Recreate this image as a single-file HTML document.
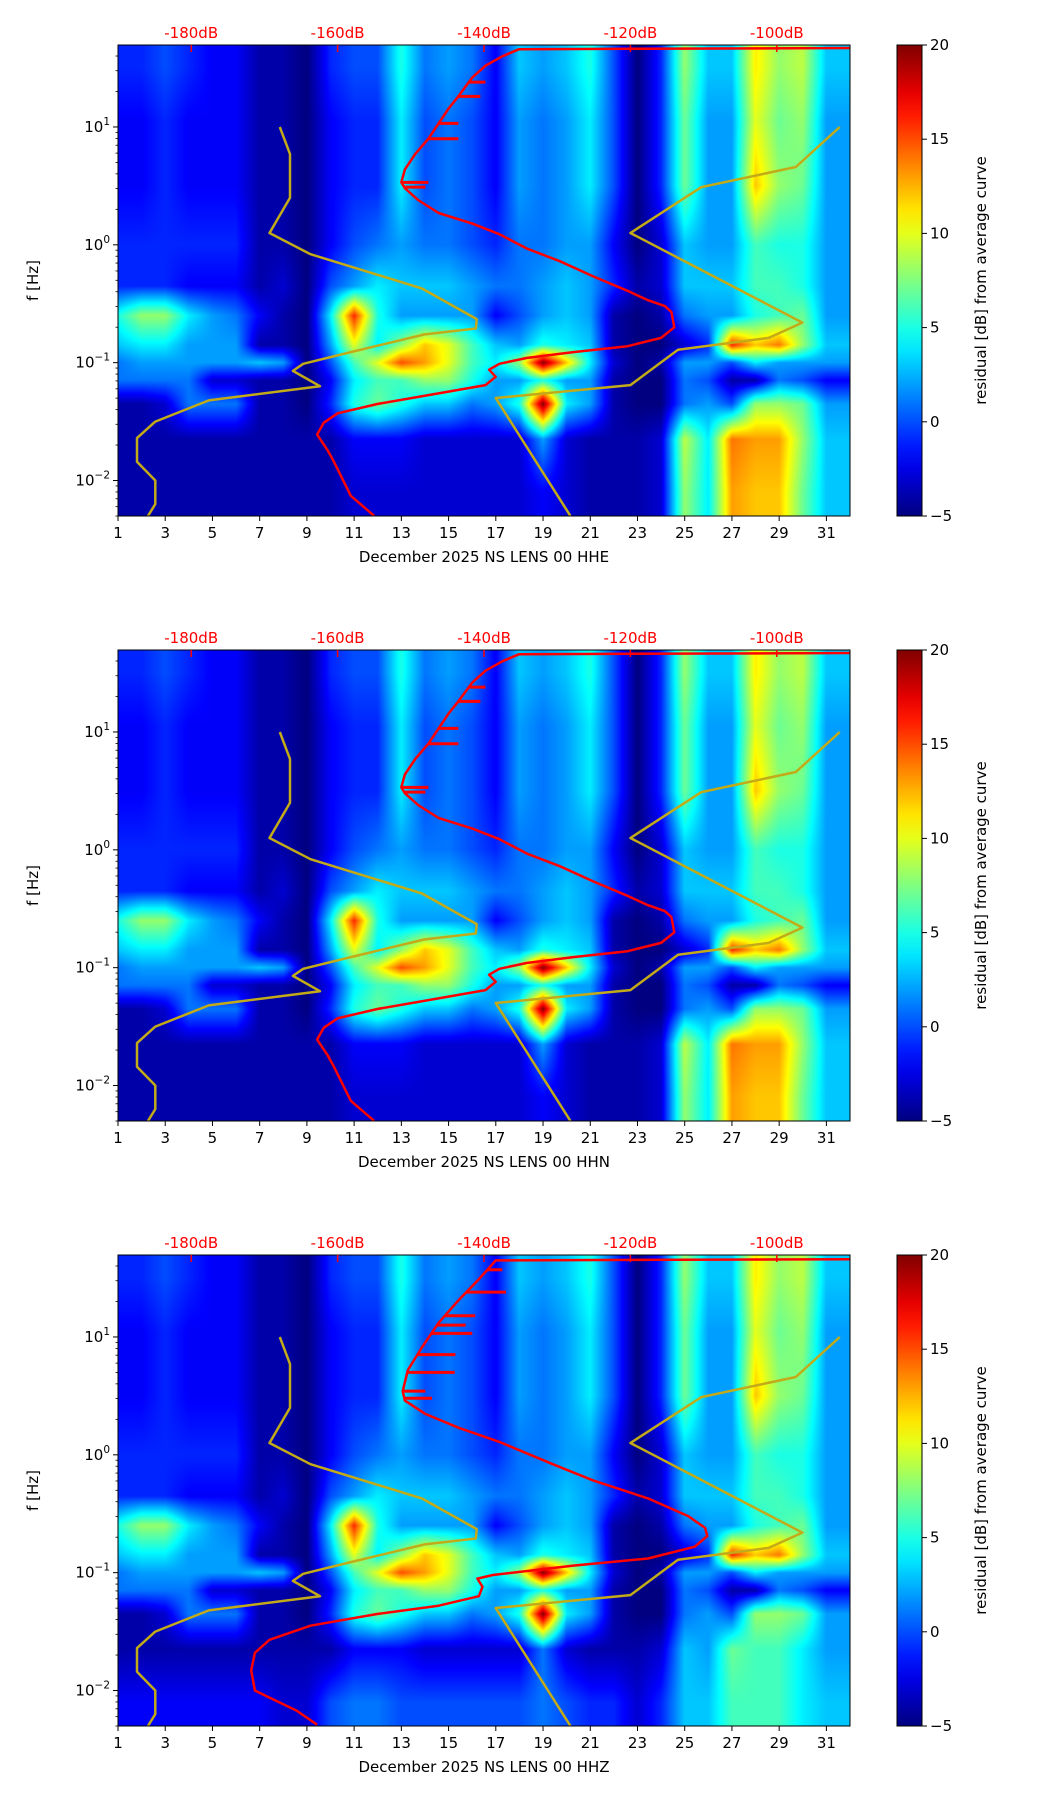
<!DOCTYPE html>
<html><head><meta charset="utf-8">
<style>
html,body{margin:0;padding:0;background:#fff;}
#root{position:relative;width:1052px;height:1806px;overflow:hidden;font-family:"DejaVu Sans","Liberation Sans",sans-serif;}
canvas.hm{position:absolute;}
svg#ov{position:absolute;left:0;top:0;}
</style></head>
<body>
<div id="root">
<svg id="ov" width="1052" height="1806"></svg>
</div>
<script>
// ---------- data ----------
const panelTitles = ["December 2025 NS LENS 00 HHE","December 2025 NS LENS 00 HHN","December 2025 NS LENS 00 HHZ"];
const xTickLabels = [1,3,5,7,9,11,13,15,17,19,21,23,25,27,29,31];
const yTickExps = [-2,-1,0,1];
const dbTickLabels = [-180,-160,-140,-120,-100];
const cbarTicks = [-5,0,5,10,15,20];
const bandLogF = [1.5,1.05,0.5,0.0,-0.35,-0.6,-0.85,-1.0,-1.15,-1.35,-1.65,-2.1];
const band0 = [-1,-1,0,-1,-2,-2,-4,-4,-5,-1,0,0,5,1,2,1,-2,3,2,3,5,0,-5,-1,8,3,3,11,8,9,3];
const band1 = [-2,-2,-1,-2,-2,-2,-4,-4,-5,-2,-1,-1,4,0,1,0,-2,2,1,2,4,0,-5,-1,7,2,2,10,7,8,2];
const band2 = [-2,-2,-1,-2,-2,-2,-4,-4,-5,-2,-1,-1,4,0,1,0,-2,2,1,2,4,0,-5,-1,7,2,2,12,8,7,2];
const band3 = [-1,-1,-1,-1,-1,-1,-4,-4,-5,-2,0,1,2,1,1,0,-1,1,1,2,2,-2,-5,-3,3,2,2,6,5,5,2];
const band4 = [-1,-1,-1,-2,-2,-2,-4,-3,-5,0,2,4,3,3,3,2,1,1,2,3,2,-1,-4,-3,3,3,3,6,6,5,2];
const band5 = [5,8,8,4,2,1,-2,-4,-5,4,16,5,2,2,2,2,-2,0,2,3,2,-4,-5,-4,1,2,2,5,6,7,2];
const band6 = [3,4,4,2,2,2,-4,-4,-5,2,10,4,8,12,10,6,3,2,5,4,3,-4,-5,-5,-3,-1,16,12,14,8,3];
const band7 = [1,2,2,2,2,2,3,2,-5,0,6,10,15,13,10,6,4,8,20,12,4,-3,-5,-4,2,2,0,4,2,2,2];
const band8 = [1,1,1,1,-3,-3,-4,-4,-5,-2,4,6,6,8,8,5,2,2,5,2,2,-4,-5,-5,1,0,-4,-4,1,0,-2];
const band9 = [-4,-4,-3,1,1,1,-4,-4,-5,-1,5,7,5,3,3,1,2,5,20,4,2,-4,-5,-5,1,2,0,8,8,7,2];
const band10 = [-4,-4,-4,-4,-4,-4,-4,-4,-4,-4,-2,-2,-2,-3,-3,-3,-3,-3,2,-3,-4,-4,-4,-3,9,4,14,13,13,8,3];
const band11 = [-4,-4,-4,-4,-4,-4,-4,-4,-4,-4,-3,-3,-3,-3,-3,-3,-3,-3,-2,-3,-4,-4,-4,-3,8,4,13,12,12,7,3];
const band10z = [-4,-4,-4,-4,-4,-4,-4,-4,-4,-4,-2,-2,-2,-3,-3,-3,-3,-3,1,-3,-4,-4,-4,-3,3,2,7,6,6,4,2];
const band11z = [-2,-2,-2,-2,-2,-2,-2,-3,-3,0,1,1,0,0,0,0,0,0,1,0,-1,-1,-3,-1,3,3,6,6,6,4,3];
// PSD curve (dB, log10 f)
const psdDbA = [-155,-158.2,-160.5,-161.4,-162.8,-161.9,-160,-154.5,-147.1,-139.8,-138.4,-139.3,-137.9,-134.2,-127.8,-120.4,-115.8,-114,-114.4,-115.3,-117.6,-120.4,-125,-129.6,-134.2,-137.9,-141.6,-146.2,-149,-150.8,-151.3,-150.8,-149.4,-147.6,-146.2,-144.8,-143.5,-141.6,-139.8,-137.5,-135.2,-90];
const psdLogFA = [-2.3,-2.13,-1.84,-1.74,-1.61,-1.51,-1.43,-1.35,-1.27,-1.19,-1.12,-1.06,-1.01,-0.96,-0.91,-0.86,-0.79,-0.70,-0.57,-0.52,-0.47,-0.39,-0.27,-0.14,-0.03,0.09,0.18,0.27,0.38,0.48,0.53,0.64,0.77,0.90,1.03,1.16,1.26,1.42,1.52,1.60,1.66,1.67];
const spikeDbA = [-147.6,-148,-143.5,-140.5,-139.8,-143.5];
const spikeLogFA = [0.53,0.49,1.03,1.26,1.38,0.9];
const psdDbZ = [-162.8,-165.6,-169.3,-171.3,-171.8,-171.3,-169.3,-163.7,-154.5,-146.2,-140.7,-140.2,-140.9,-138.8,-127.8,-117.6,-111.2,-109.5,-109.8,-112.1,-117.6,-125,-130.6,-137.9,-143.5,-148.1,-150.8,-151.1,-150.4,-148.5,-146.2,-143.5,-140.7,-138.4,-90];
const psdLogFZ = [-2.29,-2.17,-2.06,-2.0,-1.83,-1.68,-1.57,-1.45,-1.35,-1.28,-1.2,-1.12,-1.05,-1.02,-0.94,-0.88,-0.78,-0.69,-0.62,-0.52,-0.37,-0.22,-0.08,0.11,0.23,0.35,0.46,0.54,0.72,0.91,1.12,1.31,1.49,1.65,1.66];
const spikeDbZ = [-147.1,-148,-143.9,-141.6,-141.2,-137,-137.5,-144,-142.5];
const spikeLogFZ = [0.48,0.54,0.85,1.03,1.18,1.38,1.57,0.7,1.1];
// noise models
const nlnmDb = [-167.9,-166.5,-166.5,-169.3,-163.7,-148.5,-141,-141.1,-148.1,-158.2,-164.7,-166.1,-162.4,-177.6,-184.9,-187.4,-187.4,-184.9,-184.9,-185.9];
const nlnmLogF = [1.0,0.77,0.40,0.10,-0.08,-0.37,-0.63,-0.71,-0.76,-0.91,-1.01,-1.07,-1.20,-1.32,-1.50,-1.64,-1.84,-2.0,-2.2,-2.3];
const nhnmDb = [-91.4,-97.4,-110.3,-120,-96.5,-101.1,-113.5,-120,-138.4,-128.2];
const nhnmLogF = [1.0,0.66,0.49,0.10,-0.66,-0.79,-0.89,-1.19,-1.30,-2.3];

// ---------- layout ----------
const L=118, W=732, H=471, tops=[45,650,1255];
const X0=1, X1=32, LF0=Math.log10(0.005), LF1=Math.log10(49.6), DB0=-190, DB1=-90;
const CBX=897, CBW=25;
const NS="http://www.w3.org/2000/svg";
const svg=document.getElementById('ov');
const root=document.getElementById('root');
function xDay(d){return L+(d-X0)/(X1-X0)*W;}
function xDb(v){return L+(v-DB0)/(DB1-DB0)*W;}
function yF(top,lf){return top+(LF1-lf)/(LF1-LF0)*H;}
function el(tag,attrs,parent){const e=document.createElementNS(NS,tag);for(const k in attrs)e.setAttribute(k,attrs[k]);(parent||svg).appendChild(e);return e;}
function jet(v){let t=(v+5)/25;t=Math.max(0,Math.min(1,t));const c=x=>Math.max(0,Math.min(1,x));return [c(1.5-Math.abs(4*t-3))*255,c(1.5-Math.abs(4*t-2))*255,c(1.5-Math.abs(4*t-1))*255];}

function drawHeat(top,bands){
  const cv=document.createElement('canvas');cv.width=W;cv.height=H;cv.className='hm';
  cv.style.left=L+'px';cv.style.top=top+'px';
  
  
  root.insertBefore(cv,svg);
  const ctx=cv.getContext('2d');const img=ctx.createImageData(W,H);
  const nb=bandLogF.length, nd=bands[0].length;
  for(let py=0;py<H;py++){
    const lf=LF1-(py+0.5)/H*(LF1-LF0);
    let i=0;while(i<nb-2&&lf<bandLogF[i+1])i++;
    let fy=(bandLogF[i]-lf)/(bandLogF[i]-bandLogF[i+1]);fy=Math.max(0,Math.min(1,fy));
    for(let px=0;px<W;px++){
      const d=X0+(px+0.5)/W*(X1-X0);
      let cx=d-1;cx=Math.max(0,Math.min(nd-1,cx));
      const j=Math.min(nd-2,Math.floor(cx));const fx=cx-j;
      const a=bands[i][j]*(1-fx)+bands[i][j+1]*fx;
      const b=bands[i+1][j]*(1-fx)+bands[i+1][j+1]*fx;
      const [r,g,bb]=jet(a*(1-fy)+b*fy);
      const k=(py*W+px)*4;img.data[k]=r;img.data[k+1]=g;img.data[k+2]=bb;img.data[k+3]=255;
    }
  }
  ctx.putImageData(img,0,0);
}
function poly(top,dbs,lfs,color,w,name){
  const pts=dbs.map((v,i)=>xDb(v).toFixed(1)+','+yF(top,lfs[i]).toFixed(1)).join(' ');
  const p=el('polyline',{points:pts,fill:'none',stroke:color,'stroke-width':w,'stroke-linejoin':'round'});
  
  
  return p;
}
function interpDb(dbs,lfs,lf){for(let i=0;i<lfs.length-1;i++){const a=lfs[i],b=lfs[i+1];if((lf-a)*(lf-b)<=0&&a!==b){return dbs[i]+(dbs[i+1]-dbs[i])*(lf-a)/(b-a);}}return dbs[0];}

tops.forEach((top,p)=>{
  const bands=[band0,band1,band2,band3,band4,band5,band6,band7,band8,band9,p===2?band10z:band10,p===2?band11z:band11];
  drawHeat(top,bands);
  const g=el('g',{});
  
  
  const clip=el('clipPath',{id:'clip'+p},g);el('rect',{x:L,y:top,width:W,height:H},clip);
  const cg=el('g',{'clip-path':'url(#clip'+p+')'},g);
  cg.appendChild(poly(top,nlnmDb,nlnmLogF,'#c2aa18',2.5,'low-noise-model-line'));
  cg.appendChild(poly(top,nhnmDb,nhnmLogF,'#c2aa18',2.5,'high-noise-model-line'));
  const dbs=p===2?psdDbZ:psdDbA, lfs=p===2?psdLogFZ:psdLogFA;
  cg.appendChild(poly(top,dbs,lfs,'#ff0000',2.5,'psd-curve'));
  const sd=p===2?spikeDbZ:spikeDbA, sl=p===2?spikeLogFZ:spikeLogFA;
  sd.forEach((v,i)=>{
    const base=interpDb(dbs,lfs,sl[i]);
    const s=el('line',{x1:xDb(base),x2:xDb(v),y1:yF(top,sl[i]),y2:yF(top,sl[i]),stroke:'#ff0000','stroke-width':3},cg);
    
    
  });
  el('rect',{x:L,y:top,width:W,height:H,fill:'none',stroke:'#000','stroke-width':1},g);
  dbTickLabels.forEach(v=>{
    const x=xDb(v);
    el('line',{x1:x,x2:x,y1:top,y2:top+7,stroke:'#ff0000','stroke-width':1.5},g);
    const t=el('text',{x:x,y:top-7,'text-anchor':'middle','font-size':15,fill:'#ff0000'},g);t.textContent=v+'dB';
    
    
  });
  xTickLabels.forEach(d=>{
    const x=xDay(d);
    el('line',{x1:x,x2:x,y1:top+H,y2:top+H+5,stroke:'#000','stroke-width':1},g);
    const t=el('text',{x:x,y:top+H+22,'text-anchor':'middle','font-size':15,fill:'#000'},g);t.textContent=d;
    
    
  });
  const xl=el('text',{x:L+W/2,y:top+H+46,'text-anchor':'middle','font-size':15,fill:'#000'},g);xl.textContent=panelTitles[p];
  
  
  for(let e=-3;e<=1;e++){for(let m=1;m<10;m++){const lf=e+Math.log10(m);if(lf<LF0||lf>LF1)continue;const y=yF(top,lf);
    el('line',{x1:L-(m===1?5:2.5),x2:L,y1:y,y2:y,stroke:'#000','stroke-width':m===1?1:0.8},g);}}
  yTickExps.forEach(e=>{
    const y=yF(top,e);
    const t=el('text',{x:L-8,y:y+5,'text-anchor':'end','font-size':15,fill:'#000'},g);
    
    
    const a=el('tspan',{},t);a.textContent='10';
    const b=el('tspan',{'font-size':10.5,dy:-7},t);b.textContent=(e<0?'\u2212':'')+Math.abs(e);
  });
  const yl=el('text',{x:0,y:0,'text-anchor':'middle','font-size':15,fill:'#000',transform:'translate(38,'+(top+H/2)+') rotate(-90)'},g);yl.textContent='f [Hz]';
  
  
  const gid='cbg'+p;const lg=el('linearGradient',{id:gid,x1:0,y1:1,x2:0,y2:0},g);
  for(let i=0;i<=20;i++){const v=-5+25*i/20;const c=jet(v);el('stop',{offset:(i/20),'stop-color':'rgb('+c.map(Math.round).join(',')+')'},lg);}
  const cb=el('rect',{x:CBX,y:top,width:CBW,height:H,fill:'url(#'+gid+')',stroke:'#000','stroke-width':1},g);
  
  
  cbarTicks.forEach(v=>{
    const y=top+H-(v+5)/25*H;
    el('line',{x1:CBX+CBW,x2:CBX+CBW+5,y1:y,y2:y,stroke:'#000','stroke-width':1},g);
    const t=el('text',{x:CBX+CBW+8,y:y+5,'font-size':15,fill:'#000'},g);t.textContent=v<0?'\u2212'+Math.abs(v):v;
    
    
  });
  const cl=el('text',{x:0,y:0,'text-anchor':'middle','font-size':15,fill:'#000',transform:'translate(986,'+(top+H/2)+') rotate(-90)'},g);cl.textContent='residual [dB] from average curve';
  
  
});
</script>
</body></html>
